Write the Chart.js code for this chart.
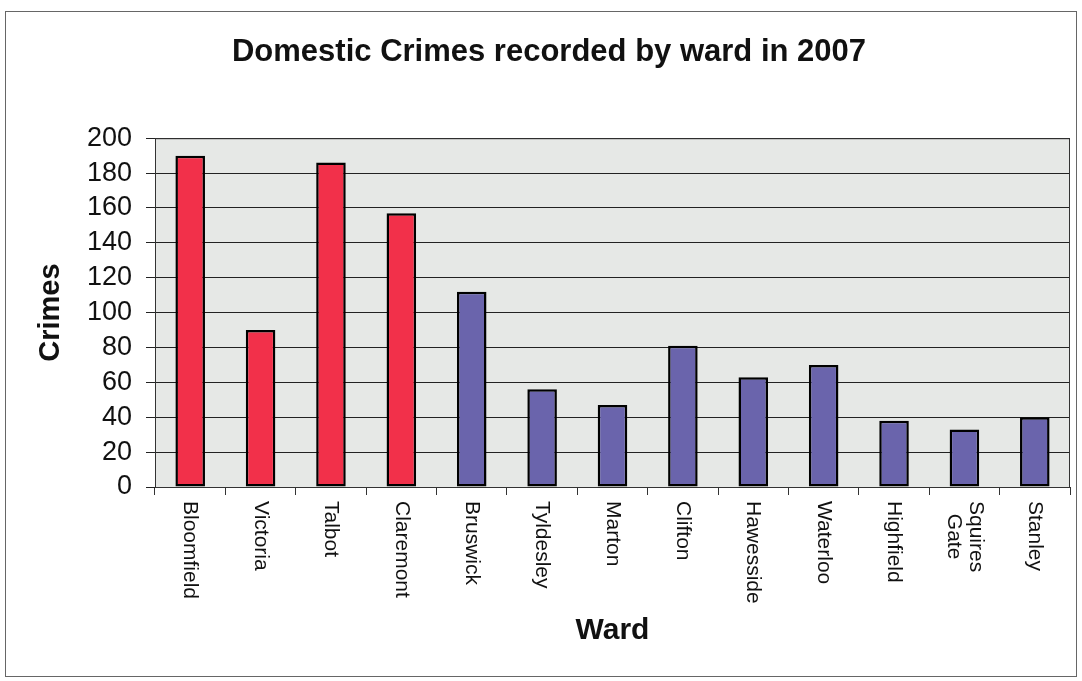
<!DOCTYPE html>
<html>
<head>
<meta charset="utf-8">
<script src="https://cdn.jsdelivr.net/npm/chart.js@4/dist/chart.umd.min.js"></script>
<style>
  html, body { margin: 0; padding: 0; background: #fff; }
  #wrap { width: 1082px; height: 681px; }
</style>
</head>
<body>
<div id="wrap"><canvas id="chart"></canvas></div>
<script>
const wards = ["Bloomfield", "Victoria", "Talbot", "Claremont", "Bruswick", "Tyldesley", "Marton",
  "Clifton", "Hawesside", "Waterloo", "Highfield", ["Squires", "Gate"], "Stanley"];
const crimes = [190, 90, 186, 157, 112, 56, 47, 81, 63, 70, 38, 33, 40];
const highlighted = [true, true, true, true, false, false, false, false, false, false, false, false, false];
const yTicks = [0, 20, 40, 60, 80, 100, 120, 140, 160, 180, 200];

const RED = "#f2304a";
const BLUE = "#6a64ac";
const FONT = "'Liberation Sans', Arial, sans-serif";

// frame, plot background and the rotated (top-to-bottom) ward labels
const decor = {
  id: "decor",
  beforeDraw(chart) {
    const { ctx, chartArea: a } = chart;
    ctx.save();
    ctx.strokeStyle = "#666";
    ctx.lineWidth = 1;
    ctx.strokeRect(5.5, 11.5, 1071, 665);
    ctx.fillStyle = "#e6e8e6";
    ctx.fillRect(a.left, a.top, a.right - a.left, a.bottom - a.top);
    ctx.restore();
  },
  afterDraw(chart) {
    const { ctx, chartArea: a } = chart;
    const xs = chart.scales.x;
    ctx.save();
    ctx.strokeStyle = "#333";
    ctx.lineWidth = 1;
    ctx.strokeRect(a.left + 0.5, a.top + 0.5, a.right - a.left - 1, a.bottom - a.top);
    ctx.font = "21px " + FONT;
    ctx.fillStyle = "#111";
    ctx.textBaseline = "middle";
    ctx.textAlign = "center";
    const lh = 22;
    wards.forEach((w, i) => {
      const lines = Array.isArray(w) ? w : [w];
      const maxW = Math.max(...lines.map(l => ctx.measureText(l).width));
      ctx.save();
      ctx.translate(xs.getPixelForValue(i), a.bottom + 14);
      ctx.rotate(Math.PI / 2);
      lines.forEach((l, j) => {
        ctx.fillText(l, maxW / 2, (j - (lines.length - 1) / 2) * lh);
      });
      ctx.restore();
    });
    ctx.restore();
  }
};

new Chart(document.getElementById("chart"), {
  type: "bar",
  data: {
    labels: wards,
    datasets: [{
      label: "Crimes",
      data: crimes,
      backgroundColor: highlighted.map(h => h ? RED : BLUE),
      borderColor: "#000",
      borderWidth: 2.5,
      borderSkipped: false,
      barPercentage: 0.42,
      categoryPercentage: 1
    }]
  },
  options: {
    responsive: true,
    maintainAspectRatio: false,
    animation: false,
    layout: { padding: { left: 28, right: 12, top: 10, bottom: 22 } },
    scales: {
      x: {
        grid: { display: true, offset: true, drawOnChartArea: false, color: "#333", tickLength: 8 },
        border: { color: "#333" },
        ticks: { display: false },
        afterFit(scale) { scale.height = 172; },
        title: {
          display: true, text: "Ward", color: "#111",
          font: { family: FONT, size: 30, weight: "bold" },
          padding: { top: 0, bottom: 10 }
        }
      },
      y: {
        min: 0,
        max: 200,
        afterBuildTicks(scale) { scale.ticks = yTicks.map(v => ({ value: v })); },
        grid: { color: "#222", lineWidth: 1, tickLength: 9 },
        border: { color: "#333" },
        ticks: { color: "#111", padding: 14, autoSkip: false, font: { family: FONT, size: 27 } },
        afterFit(scale) { scale.width = 127; },
        title: {
          display: true, text: "Crimes", color: "#111",
          font: { family: FONT, size: 29, weight: "bold" },
          padding: { top: 6, bottom: 0 }
        }
      }
    },
    plugins: {
      legend: { display: false },
      tooltip: { enabled: false },
      title: {
        display: true,
        text: "Domestic Crimes recorded by ward in 2007",
        color: "#111",
        font: { family: FONT, size: 31, weight: "bold" },
        padding: { top: 24, bottom: 67 }
      }
    }
  },
  plugins: [decor]
});
</script>
</body>
</html>
